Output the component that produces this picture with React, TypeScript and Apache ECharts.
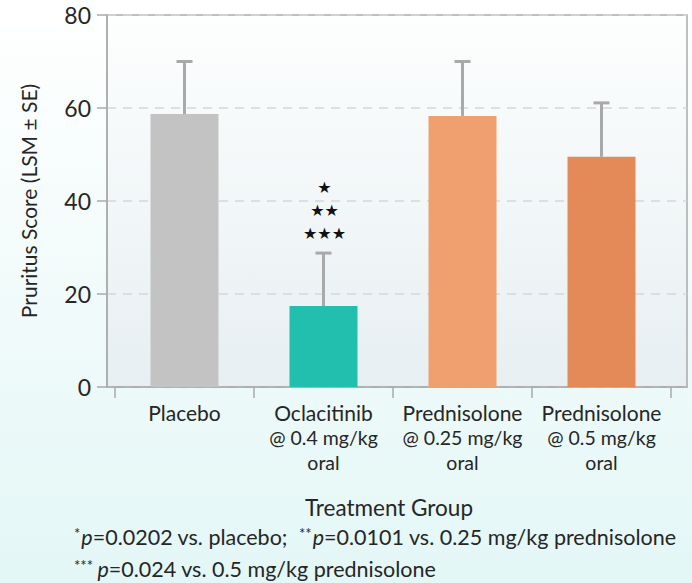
import React, { useEffect, useRef } from "react";
import * as echarts from "echarts";

const categories = ["Placebo", "Oclacitinib", "Prednisolone", "Prednisolone"];
const subLabels = ["", "@ 0.4 mg/kg\noral", "@ 0.25 mg/kg\noral", "@ 0.5 mg/kg\noral"];
const lsmValues = [58.7, 17.4, 58.3, 49.5];
const upperSE = [70.0, 28.8, 70.0, 61.1];
const starMarks = ["", "★\n★★\n★★★", "", ""];
const barColors = ["#c3c3c3", "#22bfae", "#f0a06e", "#e38a58"];
const yTicks = [0, 20, 40, 60, 80];

const FONT = "Lato, 'Open Sans', sans-serif";
const INK = "#262626";

export default function App() {
  const ref = useRef<HTMLDivElement>(null);
  useEffect(() => {
    if (!ref.current) return;
    const chart = echarts.init(ref.current, undefined, { renderer: "svg" });
    const plotBg = new echarts.graphic.LinearGradient(0, 0, 0, 1, [
      { offset: 0, color: "#fdfefe" },
      { offset: 1, color: "#e7eff2" },
    ]);
    const noteRich = {
      n: { fontSize: 21.5, fill: INK, fontFamily: FONT },
      i: { fontSize: 21.5, fill: INK, fontFamily: FONT, fontStyle: "italic" },
      s: { fontSize: 15, fill: INK, fontFamily: FONT, verticalAlign: "top", padding: [0, 1, 8, 0] },
    };
    chart.setOption({
      animation: false,
      textStyle: { fontFamily: FONT },
      grid: [
        {
          left: 107,
          right: 5,
          top: 15,
          bottom: 196,
          show: true,
          backgroundColor: plotBg,
          borderColor: "#aaaaaa",
          borderWidth: 1.5,
        },
        { left: 115, right: 21, top: 15, bottom: 196 },
      ],
      xAxis: [
        {
          type: "value",
          gridIndex: 0,
          min: 0,
          max: 1,
          show: true,
          axisLine: { show: true, lineStyle: { color: "#aaaaaa", width: 1.5 } },
          axisTick: { show: false },
          axisLabel: { show: false },
          splitLine: { show: false },
        },
        {
          type: "category",
          gridIndex: 1,
          data: categories,
          axisLine: { show: false },
          axisTick: {
            show: true,
            alignWithLabel: false,
            length: 11,
            lineStyle: { color: "#aaaaaa", width: 1.5 },
          },
          axisLabel: {
            margin: 12,
            interval: 0,
            formatter: (v: string, i: number) =>
              subLabels[i] ? `{a|${v}}\n{b|${subLabels[i].replace("\n", "}\n{b|")}}` : `{a|${v}}`,
            rich: {
              a: { fontSize: 21, color: INK, fontFamily: FONT, lineHeight: 26 },
              b: { fontSize: 19.5, color: INK, fontFamily: FONT, lineHeight: 25 },
            },
          },
          splitLine: { show: false },
        },
      ],
      yAxis: [
        {
          type: "value",
          gridIndex: 0,
          min: 0,
          max: 80,
          interval: 20,
          name: "Pruritus Score (LSM ± SE)",
          nameLocation: "middle",
          nameGap: 68,
          nameTextStyle: { fontSize: 21, color: INK, fontFamily: FONT },
          axisLine: { show: true, lineStyle: { color: "#aaaaaa", width: 1.5 } },
          axisTick: { show: true, length: 10, lineStyle: { color: "#aaaaaa", width: 1.5 } },
          axisLabel: {
            fontSize: 23,
            color: INK,
            margin: 16,
            fontFamily: FONT,
            formatter: (v: number) => (yTicks.includes(v) ? String(v) : ""),
          },
          splitLine: {
            show: true,
            lineStyle: { color: "#d6d6d6", type: [9, 7], width: 1.5 },
          },
        },
        {
          type: "value",
          gridIndex: 1,
          min: 0,
          max: 80,
          show: false,
          splitLine: { show: false },
        },
      ],
      series: [
        {
          type: "bar",
          xAxisIndex: 1,
          yAxisIndex: 1,
          barWidth: 68,
          data: lsmValues.map((v, i) => ({ value: v, itemStyle: { color: barColors[i] } })),
          z: 3,
        },
        {
          type: "custom",
          xAxisIndex: 1,
          yAxisIndex: 1,
          z: 4,
          data: lsmValues.map((v, i) => [i, v, upperSE[i]]),
          renderItem: (params: any, api: any) => {
            const i = api.value(0);
            const base = api.coord([i, api.value(1)]);
            const top = api.coord([i, api.value(2)]);
            const half = 8;
            const children: any[] = [
              {
                type: "line",
                shape: { x1: base[0], y1: base[1], x2: top[0], y2: top[1] },
                style: { stroke: "#a9a9a9", lineWidth: 3 },
              },
              {
                type: "line",
                shape: { x1: top[0] - half, y1: top[1], x2: top[0] + half, y2: top[1] },
                style: { stroke: "#a9a9a9", lineWidth: 3 },
              },
            ];
            const s = starMarks[params.dataIndex];
            if (s) {
              children.push({
                type: "text",
                style: {
                  text: s,
                  x: top[0] + 1,
                  y: top[1] - 8,
                  align: "center",
                  verticalAlign: "bottom",
                  fontSize: 16,
                  lineHeight: 23,
                  fill: "#111",
                  fontFamily: "DejaVu Sans, sans-serif",
                },
              });
            }
            return { type: "group", children };
          },
        },
      ],
      graphic: [
        {
          type: "text",
          x: 389,
          y: 507,
          style: {
            text: "Treatment Group",
            fontSize: 22.5,
            fill: INK,
            fontFamily: FONT,
            align: "center",
            verticalAlign: "middle",
          },
        },
        {
          type: "text",
          x: 74,
          y: 537,
          style: {
            text: "{s|*}{i|p}{n|=0.0202 vs. placebo;  }{s|**}{i|p}{n|=0.0101 vs. 0.25 mg/kg prednisolone}",
            verticalAlign: "middle",
            rich: noteRich,
          },
        },
        {
          type: "text",
          x: 74,
          y: 569,
          style: {
            text: "{s|***} {i|p}{n|=0.024 vs. 0.5 mg/kg prednisolone}",
            verticalAlign: "middle",
            rich: noteRich,
          },
        },
      ],
    });
    return () => chart.dispose();
  }, []);
  return (
    <div
      style={{
        position: "fixed",
        left: 0,
        top: 0,
        width: 692,
        height: 583,
        background: "linear-gradient(180deg, #ffffff 0%, #f3fbfb 45%, #e3f7f6 100%)",
      }}
    >
      <div ref={ref} style={{ width: 692, height: 583 }} />
    </div>
  );
}
